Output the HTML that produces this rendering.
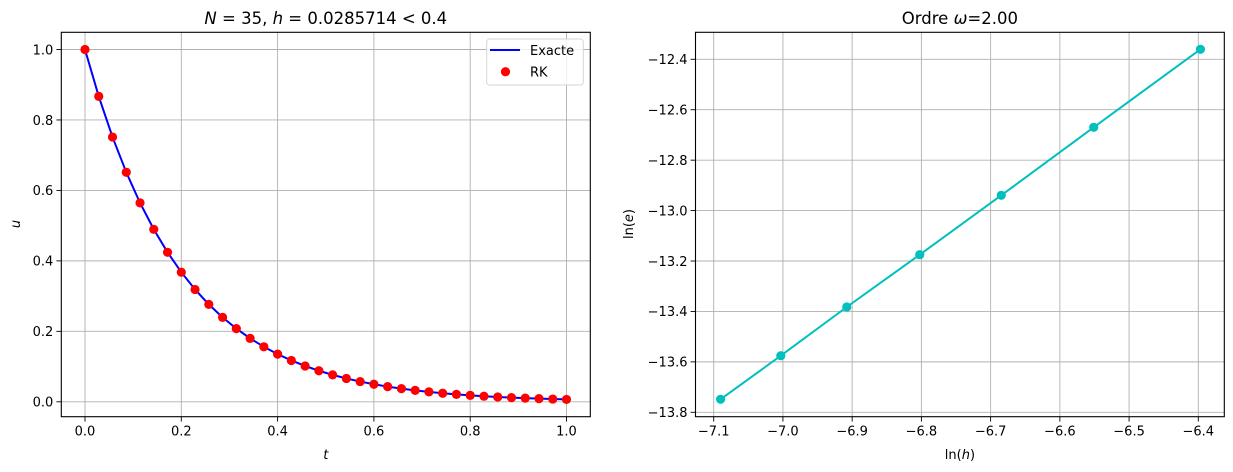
<!DOCTYPE html>
<html><head><meta charset="utf-8"><style>
html,body{margin:0;padding:0;background:#fff}
svg{display:block}
text{font-family:"DejaVu Sans","Liberation Sans",sans-serif;font-size:13px;fill:#000}
text.title{font-size:16.5px}
</style></head><body>
<svg width="1233" height="472" viewBox="0 0 1233 472" xmlns="http://www.w3.org/2000/svg">
<rect width="1233" height="472" fill="#fff"/>
<g id="left"></g>
<g id="right"></g>
<text class="title" x="325.8" y="24" text-anchor="middle"><tspan font-style="italic">N</tspan> = 35, <tspan font-style="italic">h</tspan> = 0.0285714 &lt; 0.4</text>
<text x="325.8" y="459" text-anchor="middle" font-style="italic">t</text>
<text x="20" y="224" text-anchor="middle" font-style="italic" transform="rotate(-90 20 224)">u</text>
<text class="title" x="959.9" y="24" text-anchor="middle">Ordre <tspan font-style="italic">ω</tspan>=2.00</text>
<text x="959.9" y="459" text-anchor="middle">ln(<tspan font-style="italic">h</tspan>)</text>
<text x="633" y="224" text-anchor="middle" transform="rotate(-90 633 224)">ln(<tspan font-style="italic">e</tspan>)</text>
<script>
(function(){
var NS="http://www.w3.org/2000/svg";
function el(p,t,a,txt){var e=document.createElementNS(NS,t);for(var k in a)e.setAttribute(k,a[k]);if(txt!==undefined)e.textContent=txt;p.appendChild(e);return e;}
var L=document.getElementById('left');
var x0=61.3,x1=590.3,y0=32.3,y1=416.7;
function lx(t){return 85+t*481.5;}
function ly(u){return 401.8-u*352.3;}
[0,0.2,0.4,0.6,0.8,1.0].forEach(function(v){
 var X=lx(v);el(L,'line',{x1:X,x2:X,y1:y0,y2:y1,stroke:'#b0b0b0','stroke-width':0.9});
 el(L,'line',{x1:X,x2:X,y1:y1,y2:y1+4.9,stroke:'#000','stroke-width':0.9});
 el(L,'text',{x:X,y:y1+19,'text-anchor':'middle'},v.toFixed(1));
 var Y=ly(v);el(L,'line',{x1:x0,x2:x1,y1:Y,y2:Y,stroke:'#b0b0b0','stroke-width':0.9});
 el(L,'line',{x1:x0-4.9,x2:x0,y1:Y,y2:Y,stroke:'#000','stroke-width':0.9});
 el(L,'text',{x:x0-8,y:Y+4.8,'text-anchor':'end'},v.toFixed(1));
});
var pts=[];for(var i=0;i<=35;i++){var t=i/35;pts.push([lx(t),ly(Math.exp(-5*t))]);}
el(L,'polyline',{points:pts.map(function(p){return p.join(',')}).join(' '),fill:'none',stroke:'#0000ff','stroke-width':2});
pts.forEach(function(p){el(L,'circle',{cx:p[0],cy:p[1],r:4.6,fill:'#ff0000'});});
el(L,'rect',{x:x0,y:y0,width:x1-x0,height:y1-y0,fill:'none',stroke:'#000','stroke-width':1.1});
el(L,'rect',{x:486.7,y:39,width:96.6,height:46,rx:3,fill:'#fff','fill-opacity':0.8,stroke:'#d6d6d6','stroke-width':1});
el(L,'line',{x1:490,x2:520,y1:50,y2:50,stroke:'#0000ff','stroke-width':2});
el(L,'text',{x:530,y:55},'Exacte');
el(L,'circle',{cx:505.5,cy:71.7,r:4.6,fill:'#ff0000'});
el(L,'text',{x:530,y:76.5},'RK');

var R=document.getElementById('right');
var a0=695.5,a1=1224.3,b0=32.3,b1=416.7;
function rx(v){return 713.7+(v+7.1)*692.3;}
function ry(v){return 59.3+(-12.4-v)*252.14;}
[-7.1,-7.0,-6.9,-6.8,-6.7,-6.6,-6.5,-6.4].forEach(function(v){
 var X=rx(v);el(R,'line',{x1:X,x2:X,y1:b0,y2:b1,stroke:'#b0b0b0','stroke-width':0.9});
 el(R,'line',{x1:X,x2:X,y1:b1,y2:b1+4.9,stroke:'#000','stroke-width':0.9});
 el(R,'text',{x:X,y:b1+19,'text-anchor':'middle'},'\u2212'+Math.abs(v).toFixed(1));
});
[-12.4,-12.6,-12.8,-13.0,-13.2,-13.4,-13.6,-13.8].forEach(function(v){
 var Y=ry(v);el(R,'line',{x1:a0,x2:a1,y1:Y,y2:Y,stroke:'#b0b0b0','stroke-width':0.9});
 el(R,'line',{x1:a0-4.9,x2:a0,y1:Y,y2:Y,stroke:'#000','stroke-width':0.9});
 el(R,'text',{x:a0-8,y:Y+4.8,'text-anchor':'end'},'\u2212'+Math.abs(v).toFixed(1));
});
var Ns=[1200,1100,1000,900,800,700,600];
var ys=[399.3,355.7,307,254.7,195.3,127.3,49.3];
var rp=Ns.map(function(n,i){return [rx(Math.log(1/n)),ys[i]];});
el(R,'polyline',{points:rp.map(function(p){return p.join(',')}).join(' '),fill:'none',stroke:'#00bfbf','stroke-width':2});
rp.forEach(function(p){el(R,'circle',{cx:p[0],cy:p[1],r:4.6,fill:'#00bfbf'});});
el(R,'rect',{x:a0,y:b0,width:a1-a0,height:b1-b0,fill:'none',stroke:'#000','stroke-width':1.1});
})();
</script>
</svg>
</body></html>
